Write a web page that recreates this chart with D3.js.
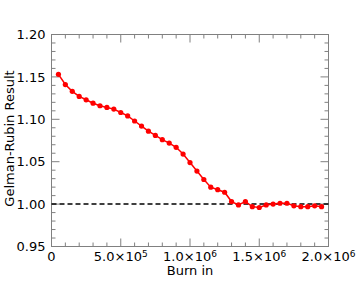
<!DOCTYPE html>
<html>
<head>
<meta charset="utf-8">
<script src="https://cdn.jsdelivr.net/npm/d3@7"></script>
<style>
  body { margin: 0; background: #fff; }
  svg { display: block; }
  text { font-family: "DejaVu Sans", sans-serif; fill: #000; }
</style>
</head>
<body>
<div class="chart"></div>
<script>
// burn-in lengths and Gelman-Rubin values
const burnIn = [5e4, 1e5, 1.5e5, 2e5, 2.5e5, 3e5, 3.5e5, 4e5, 4.5e5, 5e5,
  5.5e5, 6e5, 6.5e5, 7e5, 7.5e5, 8e5, 8.5e5, 9e5, 9.5e5, 1e6,
  1.05e6, 1.1e6, 1.15e6, 1.2e6, 1.25e6, 1.3e6, 1.35e6, 1.4e6, 1.45e6, 1.5e6,
  1.55e6, 1.6e6, 1.65e6, 1.7e6, 1.75e6, 1.8e6, 1.85e6, 1.9e6, 1.95e6];
const gr = [1.153, 1.141, 1.133, 1.127, 1.123, 1.119, 1.116, 1.114, 1.112, 1.108,
  1.104, 1.098, 1.092, 1.086, 1.081, 1.076, 1.072, 1.067, 1.059, 1.049,
  1.039, 1.029, 1.020, 1.017, 1.014, 1.003, 0.999, 1.003, 0.997, 0.996,
  0.999, 1.000, 1.001, 1.001, 0.998, 0.997, 0.997, 0.998, 0.997];

const xMajor = [0, 5e5, 1e6, 1.5e6, 2e6];
const xMantissa = ["0", "5.0", "1.0", "1.5", "2.0"];
const xExponent = ["", "5", "6", "6", "6"];
const yMajor = [0.95, 1.00, 1.05, 1.10, 1.15, 1.20];
const refLine = 1.0;

const W = 357, H = 286;
const margin = {top: 34.5, right: 28.5, bottom: 39.5, left: 51.5},
      width = W - margin.left - margin.right,
      height = H - margin.top - margin.bottom;

let svg = d3.select(".chart").append("svg")
  .attr("width", W)
  .attr("height", H)
  .append("g")
  .attr("transform", "translate(" + margin.left + "," + margin.top + ")");

let x = d3.scaleLinear().domain([0, 2e6]).range([0, width]);
let y = d3.scaleLinear().domain([0.95, 1.20]).range([height, 0]);

const axisColor = "#808080";
const majorLen = 8, minorLen = 4;

// minor ticks
let xMinor = d3.range(0, 2e6 + 1, 1e5).filter(v => v % 5e5 !== 0);
let yMinor = d3.range(0, 26).map(i => 0.95 + i * 0.01).filter(v => Math.abs(Math.round(v * 100) % 5) > 0.001);

function ticks(sel, values, len, horizontal) {
  values.forEach(v => {
    if (horizontal) {
      sel.append("line").attr("x1", x(v)).attr("x2", x(v)).attr("y1", height).attr("y2", height - len);
      sel.append("line").attr("x1", x(v)).attr("x2", x(v)).attr("y1", 0).attr("y2", len);
    } else {
      sel.append("line").attr("y1", y(v)).attr("y2", y(v)).attr("x1", 0).attr("x2", len);
      sel.append("line").attr("y1", y(v)).attr("y2", y(v)).attr("x1", width).attr("x2", width - len);
    }
  });
}

let tg = svg.append("g").attr("stroke", axisColor).attr("stroke-width", 1);
ticks(tg, xMajor, majorLen, true);
ticks(tg, xMinor, minorLen, true);
ticks(tg, yMajor, majorLen, false);
ticks(tg, yMinor, minorLen, false);

svg.append("rect")
  .attr("width", width).attr("height", height)
  .attr("fill", "none").attr("stroke", axisColor).attr("stroke-width", 1);

// y tick labels
svg.append("g").selectAll("text")
  .data(yMajor)
  .enter().append("text")
  .attr("x", -6)
  .attr("y", d => y(d))
  .attr("dy", "0.36em")
  .attr("text-anchor", "end")
  .style("font-size", "13px")
  .text(d => d.toFixed(2));

// x tick labels with exponent
let xl = svg.append("g").selectAll("text")
  .data(xMajor)
  .enter().append("text")
  .attr("x", d => x(d))
  .attr("y", height + 14.5)
  .attr("text-anchor", "middle")
  .style("font-size", "13px");
xl.append("tspan").text((d, i) => xMantissa[i] + (xExponent[i] ? "×10" : ""));
xl.append("tspan")
  .attr("dy", "-0.45em")
  .style("font-size", "9px")
  .text((d, i) => xExponent[i]);

// axis titles
svg.append("text")
  .attr("x", x(1e6))
  .attr("y", height + 28.5)
  .attr("text-anchor", "middle")
  .style("font-size", "13px")
  .text("Burn in");

svg.append("text")
  .attr("transform", "translate(" + (-38) + "," + (height / 2 - 2) + ") rotate(-90)")
  .attr("text-anchor", "middle")
  .style("font-size", "13px")
  .text("Gelman-Rubin Result");

// reference line
svg.append("line")
  .attr("x1", 0).attr("x2", width)
  .attr("y1", y(refLine)).attr("y2", y(refLine))
  .attr("stroke", "#000")
  .attr("stroke-width", 1.5)
  .attr("stroke-dasharray", "5,3");

let pts = burnIn.map((b, i) => [b, gr[i]]);

svg.append("path")
  .datum(pts)
  .attr("fill", "none")
  .attr("stroke", "#ff0000")
  .attr("stroke-width", 1.5)
  .attr("d", d3.line().x(d => x(d[0])).y(d => y(d[1])));

svg.selectAll(".pt")
  .data(pts)
  .enter().append("circle")
  .attr("class", "pt")
  .attr("cx", d => x(d[0]))
  .attr("cy", d => y(d[1]))
  .attr("r", 2.6)
  .attr("fill", "#ff0000");
</script>
</body>
</html>
